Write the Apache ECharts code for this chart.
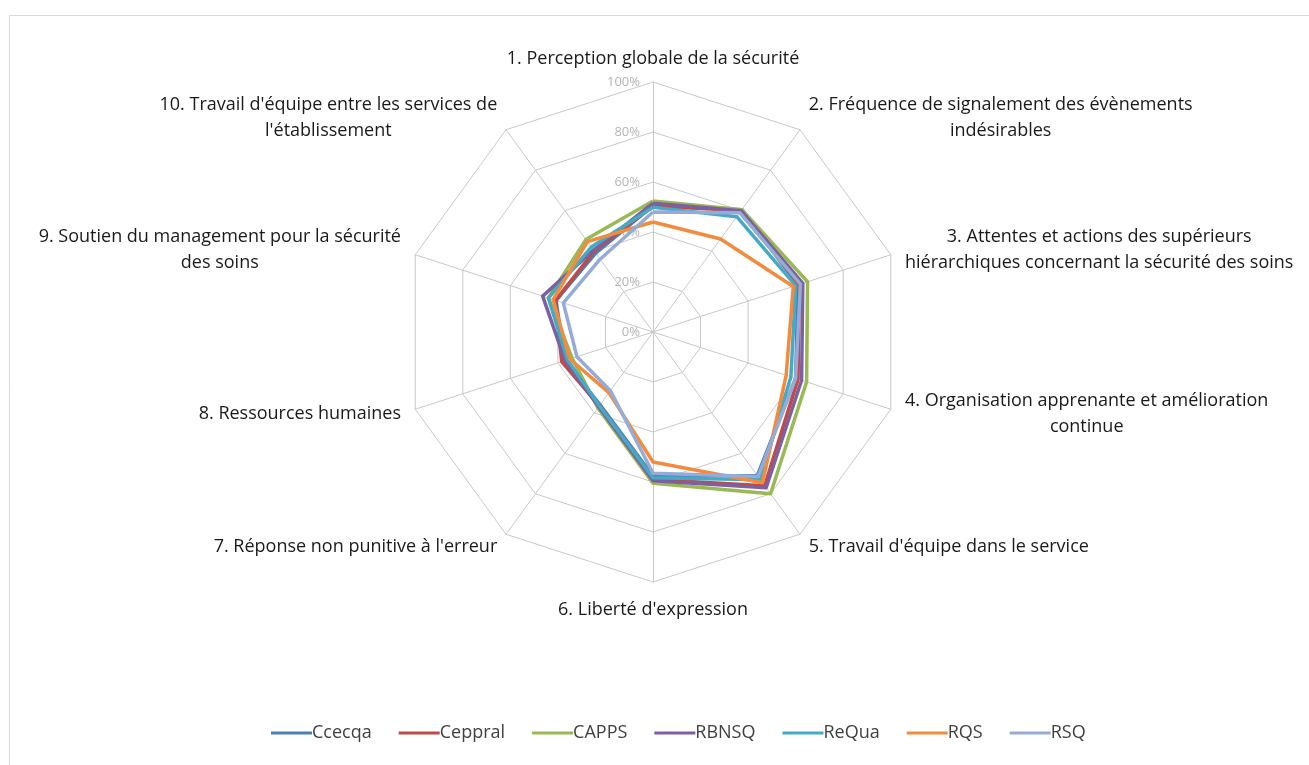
<!DOCTYPE html>
<html>
<head>
<meta charset="utf-8">
<script src="https://cdn.jsdelivr.net/npm/echarts@6/dist/echarts.min.js"></script>
<style>
html,body{margin:0;padding:0;background:#fff;}
#c{width:1309px;height:765px;}
</style>
</head>
<body>
<div id="c"></div>
<script>
const categories = [
  "1. Perception globale de la sécurité",
  "2. Fréquence de signalement des évènements\nindésirables",
  "3. Attentes et actions des supérieurs\nhiérarchiques concernant la sécurité des soins",
  "4. Organisation apprenante et amélioration\ncontinue",
  "5. Travail d'équipe dans le service",
  "6. Liberté d'expression",
  "7. Réponse non punitive à l'erreur",
  "8. Ressources humaines",
  "9. Soutien du management pour la sécurité\ndes soins",
  "10. Travail d'équipe entre les services de\nl'établissement"
];
const seriesNames = ["Ccecqa", "Ceppral", "CAPPS", "RBNSQ", "ReQua", "RQS", "RSQ"];
const Ccecqa  = [50.5, 60.5, 61, 60, 71, 57.6, 36, 37, 40.8, 39];
const Ceppral = [50.5, 60, 61.5, 61, 76, 59, 36.5, 38.4, 41, 40];
const CAPPS   = [52.4, 60.5, 65, 64.6, 80, 60.5, 37.5, 34, 44, 45.7];
const RBNSQ   = [51.5, 60, 63, 62.5, 77, 59.5, 37, 37, 46.4, 40.5];
const ReQua   = [49.9, 57, 60, 58, 73, 58.3, 36.5, 36, 44, 42];
const RQS     = [44, 46, 59, 56, 74.5, 52, 30, 35, 42, 44.7];
const RSQ     = [48, 59, 62, 60, 71.5, 56.5, 29, 32, 37.7, 36];
const seriesValues = [Ccecqa, Ceppral, CAPPS, RBNSQ, ReQua, RQS, RSQ];
const colors = ["#4a7ebb", "#be4b48", "#98b954", "#7d60a0", "#46aac5", "#f38b3c", "#95acd6"];
const tickMax = 100;

// ECharts lays radar indicators counter-clockwise; reorder so they run clockwise.
const order = [0, 9, 8, 7, 6, 5, 4, 3, 2, 1];

const chart = echarts.init(document.getElementById('c'));
const font = 'Open Sans';
const indicator = order.map((k, i) => {
  const o = { name: categories[k], max: tickMax, min: 0 };
  if (i === 0) { o.axisLabel = { show: true }; o.nameGap = 10; }
  return o;
});
chart.setOption({
  animation: false,
  color: colors,
  graphic: [{
    type: 'rect', left: 7, top: 13,
    shape: { width: 1320, height: 780 },
    style: { fill: 'none', stroke: '#d9d9d9', lineWidth: 1 },
    silent: true
  }],
  legend: {
    top: 719,
    left: 266,
    icon: 'rect',
    itemWidth: 41,
    itemHeight: 3,
    itemGap: 27,
    textStyle: { fontFamily: font, fontSize: 18, color: '#404040', padding: [0, 0, 0, -5] },
    data: seriesNames
  },
  radar: {
    center: [653, 332],
    radius: 250,
    shape: 'polygon',
    splitNumber: 5,
    startAngle: 90,
    indicator: indicator,
    nameGap: 15,
    axisName: {
      color: '#1a1a1a',
      fontFamily: font,
      fontSize: 18,
      lineHeight: 26,
      formatter: function (v) {
        return v.split('\n').map(s => '{c|' + s + '}').join('\n');
      },
      rich: { c: { align: 'center', fontFamily: font, fontSize: 18, color: '#1a1a1a', lineHeight: 26 } }
    },
    axisLine: { show: true, lineStyle: { color: '#c8c8c8', width: 1 } },
    splitLine: { show: true, lineStyle: { color: '#c8c8c8', width: 1 } },
    splitArea: { show: false },
    axisTick: { show: false },
    axisLabel: {
      show: false,
      formatter: '{value}%',
      color: '#b4b4b4',
      fontFamily: font,
      fontSize: 13,
      margin: 13
    }
  },
  series: [{
    type: 'radar',
    symbol: 'none',
    lineStyle: { width: 3.5 },
    data: seriesNames.map((n, i) => ({
      name: n,
      value: order.map(k => seriesValues[i][k]),
      lineStyle: { width: 3.5, color: colors[i] },
      itemStyle: { color: colors[i] }
    }))
  }]
});
</script>
</body>
</html>
